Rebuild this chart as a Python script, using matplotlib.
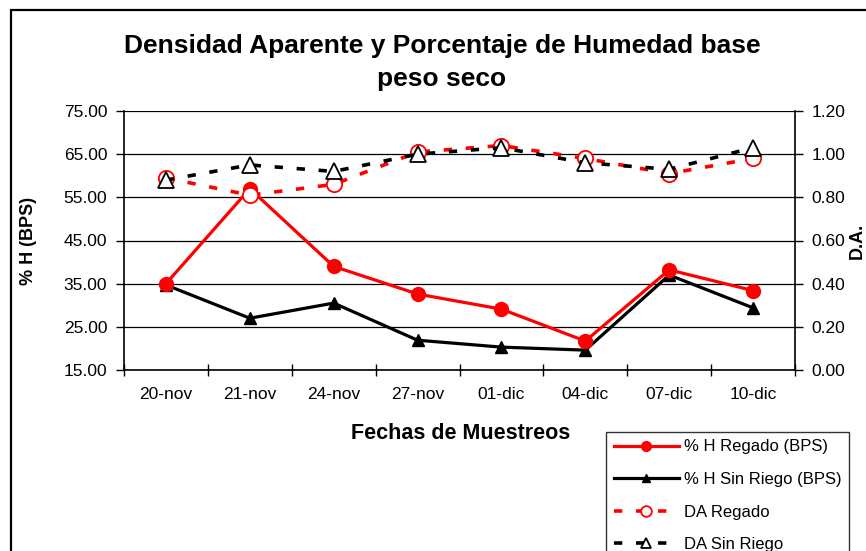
import matplotlib
matplotlib.use("Agg")
import matplotlib.pyplot as plt
from matplotlib.patches import Rectangle

plt.rcParams['font.family'] = ['Liberation Sans', 'DejaVu Sans']

fechas = ["20-nov", "21-nov", "24-nov", "27-nov", "01-dic", "04-dic", "07-dic", "10-dic"]
h_regado = [35.0, 57.0, 39.0, 32.6, 29.1, 21.7, 38.2, 33.4]
h_sin_riego = [34.7, 27.0, 30.5, 21.9, 20.3, 19.6, 37.0, 29.4]
da_regado = [0.89, 0.81, 0.86, 1.01, 1.04, 0.98, 0.91, 0.98]
da_sin_riego = [0.88, 0.95, 0.92, 1.00, 1.03, 0.96, 0.93, 1.03]

left_ticks = [15, 25, 35, 45, 55, 65, 75]
right_ticks = [0.0, 0.2, 0.4, 0.6, 0.8, 1.0, 1.2]

W, H = 866, 551
fig = plt.figure(figsize=(W / 100, H / 100), dpi=100)

# outer chart border (cropped on right and bottom)
fig.patches.append(Rectangle((10.5 / W, -0.1), 2.0, (H - 9.5) / H + 0.1,
                             transform=fig.transFigure, fill=False,
                             edgecolor='black', linewidth=1.6, zorder=0))

ax = fig.add_axes([124 / W, 1 - 370 / H, (795 - 124) / W, (370 - 111) / H])
ax2 = ax.twinx()

x = list(range(len(fechas)))

ax.set_xlim(-0.5, len(fechas) - 0.5)
ax.set_ylim(15, 75)
ax2.set_ylim(0, 1.2)

for y in left_ticks:
    ax.axhline(y, color='black', linewidth=0.9, zorder=1)

dash = (0, (2.3, 3.8))
l1, = ax.plot(x, h_regado, color='#ff0000', linewidth=2.3, marker='o',
              markersize=10, markerfacecolor='#ff0000', markeredgecolor='#ff0000',
              zorder=4, label='% H Regado (BPS)')
l2, = ax.plot(x, h_sin_riego, color='black', linewidth=2.3, marker='^',
              markersize=9, markerfacecolor='black', markeredgecolor='black',
              zorder=3, label='% H Sin Riego (BPS)')
l3, = ax2.plot(x, da_regado, color='#ff0000', linewidth=2.6, linestyle=dash,
               marker='o', markersize=11, markerfacecolor='white',
               markeredgecolor='#ff0000', markeredgewidth=1.3, zorder=3,
               label='DA Regado')
l4, = ax2.plot(x, da_sin_riego, color='black', linewidth=2.6, linestyle=dash,
               marker='^', markersize=11, markerfacecolor='white',
               markeredgecolor='black', markeredgewidth=1.3, zorder=4,
               label='DA Sin Riego')

ax.set_yticks(left_ticks)
ax.set_yticklabels([f"{v:.2f}" for v in left_ticks], fontsize=12.5)
ax2.set_yticks(right_ticks)
ax2.set_yticklabels([f"{v:.2f}" for v in right_ticks], fontsize=12.5)

ax.set_xticks(x)
ax.set_xticklabels(fechas, fontsize=12.5)
ax.set_xticks([i + 0.5 for i in range(-1, len(fechas))], minor=True)
ax.tick_params(axis='x', which='major', length=0, pad=12)
ax.tick_params(axis='x', which='minor', direction='inout', length=9, width=1)
ax.tick_params(axis='y', direction='out', length=6, width=1, pad=6)
ax2.tick_params(axis='y', direction='out', length=6, width=1, pad=6)

for a in (ax, ax2):
    a.spines['top'].set_visible(False)
    for s in ('left', 'right', 'bottom'):
        a.spines[s].set_linewidth(1.2)
ax.spines['right'].set_visible(False)
ax2.spines['left'].set_visible(False)
ax2.spines['bottom'].set_visible(False)

ax.set_zorder(2)
ax.patch.set_visible(False)
ax2.set_zorder(3)
ax2.patch.set_visible(False)

ax.set_ylabel('% H (BPS)', fontsize=13, fontweight='bold')
ax.yaxis.set_label_coords((37 - 124) / 671, 0.5)
ax.set_xlabel('Fechas de Muestreos', fontsize=15.5, fontweight='bold')
ax.xaxis.set_label_coords(0.502, (370 - 423) / 259)
fig.text(857 / W, 1 - 241 / H, 'D.A.', rotation=90, fontsize=13,
         fontweight='bold', ha='center', va='center')

fig.text(442 / W, 1 - 46 / H, 'Densidad Aparente y Porcentaje de Humedad base',
         fontsize=19, fontweight='bold', ha='center', va='center')
fig.text(442 / W, 1 - 79 / H, 'peso seco',
         fontsize=19, fontweight='bold', ha='center', va='center')

leg = fig.legend(handles=[l1, l2, l3, l4], loc='upper left',
                 bbox_to_anchor=(606 / W, 1 - 432 / H),
                 fontsize=12.0, frameon=True, fancybox=False,
                 edgecolor='black', handlelength=3.9, handletextpad=0.3,
                 labelspacing=1.05, borderaxespad=0, borderpad=0.45,
                 markerscale=0.7)
leg.get_frame().set_linewidth(1.0)

fig.savefig('out.png', dpi=100)
